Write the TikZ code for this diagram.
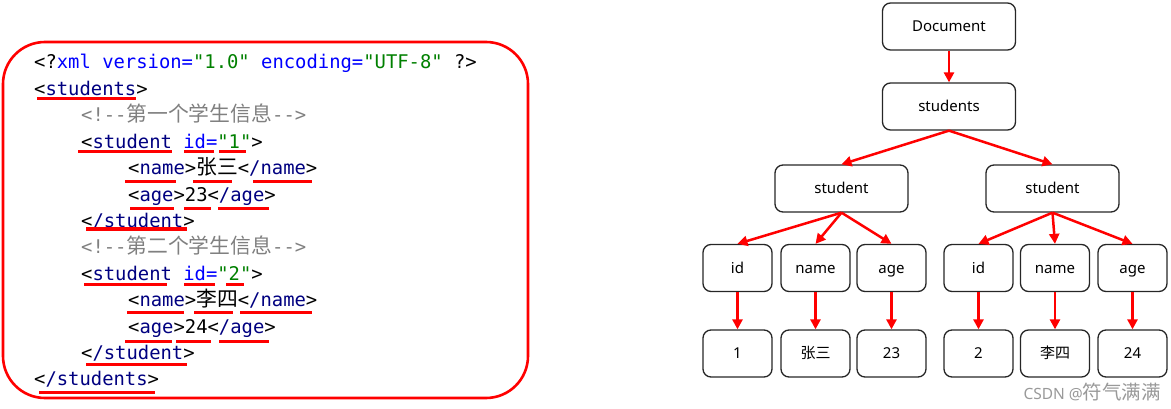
\documentclass[tikz,border=0pt]{standalone}
\usepackage{fontspec}
\setmainfont{Noto Sans}
\newfontfamily\cjk{Noto Sans CJK SC}
\newfontfamily\codefont{DejaVu Sans Mono}
\usetikzlibrary{arrows.meta}
\definecolor{tagc}{RGB}{0,0,128}
\definecolor{attc}{RGB}{0,0,255}
\definecolor{valc}{RGB}{0,128,0}
\definecolor{cmtc}{RGB}{128,128,128}
\newcommand{\xtag}[1]{\textcolor{tagc}{#1}}
\newcommand{\xattr}[1]{\textcolor{attc}{#1}}
\newcommand{\xval}[1]{\textcolor{valc}{#1}}
\newcommand{\xcmt}[1]{\textcolor{cmtc}{#1}}
\newcommand{\zh}[1]{{\cjk\fontsize{20.8}{26}\selectfont #1}}
\newcommand{\uline}[3]{\draw[redline] (#1,#3) -- (#2,#3);}

\begin{document}
\begin{tikzpicture}[x=1pt, y=-1pt,
  code/.style={anchor=base west, inner sep=0pt, font=\codefont\fontsize{18.85}{26.4}\selectfont},
  redline/.style={red, line width=3pt},
  box/.style={draw=black!85, line width=1.3pt, rounded corners=8pt, minimum height=47pt,
    text height=12.5pt, text depth=2pt, font=\fontsize{15}{18}\selectfont},
  wide/.style={box, minimum width=133pt},
  leaf/.style={box, minimum width=69pt},
  link/.style={red, line width=2.5pt, -{Triangle[length=10pt, width=10pt]}}]
\useasboundingbox (0,0) rectangle (1171,409);
% xml source
\draw[red, line width=2.6pt, rounded corners=42pt] (3,42) rectangle (528,398);
\node[code] (l1) at (34,69) {<?\xattr{xml version=}\xval{"1.0"} \xattr{encoding=}\xval{"UTF-8"} ?>};
\node[code] (l2) at (34,95.4) {<\xtag{students}>};
\node[code] (l3) at (81,121.8) {\xcmt{<!--\zh{第一个学生信息}-->}};
\node[code] (l4) at (81,148.2) {<\xtag{student} \xattr{id=}\xval{"1"}>};
\node[code] (l5) at (128,174.6) {<\xtag{name}>\zh{张三}<\xtag{/name}>};
\node[code] (l6) at (128,201) {<\xtag{age}>23<\xtag{/age}>};
\node[code] (l7) at (81,227.4) {<\xtag{/student}>};
\node[code] (l8) at (81,253.8) {\xcmt{<!--\zh{第二个学生信息}-->}};
\node[code] (l9) at (81,280.2) {<\xtag{student} \xattr{id=}\xval{"2"}>};
\node[code] (l10) at (128,306.6) {<\xtag{name}>\zh{李四}<\xtag{/name}>};
\node[code] (l11) at (128,333) {<\xtag{age}>24<\xtag{/age}>};
\node[code] (l12) at (81,359.4) {<\xtag{/student}>};
\node[code] (l13) at (34,385.8) {<\xtag{/students}>};
% underlines
\uline{37}{136}{99}
\uline{78}{172}{152} \uline{184}{214}{152} \uline{219}{246}{152}
\uline{125}{176}{182} \uline{193}{232}{182} \uline{253}{312}{182}
\uline{130}{174}{209} \uline{184}{211}{209} \uline{218}{269}{209}
\uline{86}{187}{229}
\uline{84}{167}{284} \uline{184}{215}{284} \uline{226}{244}{284}
\uline{127}{184}{312} \uline{194}{233}{312} \uline{240}{312}{312}
\uline{125}{172}{341} \uline{176}{211}{341} \uline{219}{269}{341}
\uline{86}{187}{364}
\uline{39}{155}{392}
% tree
\node[wide] (doc) at (949,26.5) {Document};
\node[wide] (stus) at (949,106.5) {students};
\node[wide] (stuA) at (841.5,188.5) {student};
\node[wide] (stuB) at (1052.5,188.5) {student};
\node[leaf] (idA) at (737.5,268) {id};
\node[leaf] (nameA) at (815.5,268) {name};
\node[leaf] (ageA) at (891.5,268) {age};
\node[leaf] (idB) at (978.5,268) {id};
\node[leaf] (nameB) at (1055,268) {name};
\node[leaf] (ageB) at (1132.5,268) {age};
\node[leaf] (validA) at (737.5,353.5) {1};
\node[leaf] (valnameA) at (815.5,353.5) {\cjk 张三};
\node[leaf] (valageA) at (891.5,353.5) {23};
\node[leaf] (validB) at (978.5,353.5) {2};
\node[leaf] (valnameB) at (1055,353.5) {\cjk 李四};
\node[leaf] (valageB) at (1132.5,353.5) {24};
\draw[link] (doc) -- (stus);
\draw[link] (stus.south) -- (stuA.north);
\draw[link] (stus.south) -- (stuB.north);
\draw[link] (stuA.south) -- (idA.north);
\draw[link] (stuA.south) -- (nameA.north);
\draw[link] (stuA.south) -- (ageA.north);
\draw[link] (stuB.south) -- (idB.north);
\draw[link] (stuB.south) -- (nameB.north);
\draw[link] (stuB.south) -- (ageB.north);
\draw[link] (idA) -- (validA);
\draw[link] (nameA) -- (valnameA);
\draw[link] (ageA) -- (valageA);
\draw[link] (idB) -- (validB);
\draw[link] (nameB) -- (valnameB);
\draw[link] (ageB) -- (valageB);
\node[anchor=west, text=black!40, font=\fontsize{15.5}{18}\selectfont] (csdn) at (1020,392) {CSDN @{\cjk\fontsize{19.5}{20}\selectfont 符气满满}};
\end{tikzpicture}
\end{document}
